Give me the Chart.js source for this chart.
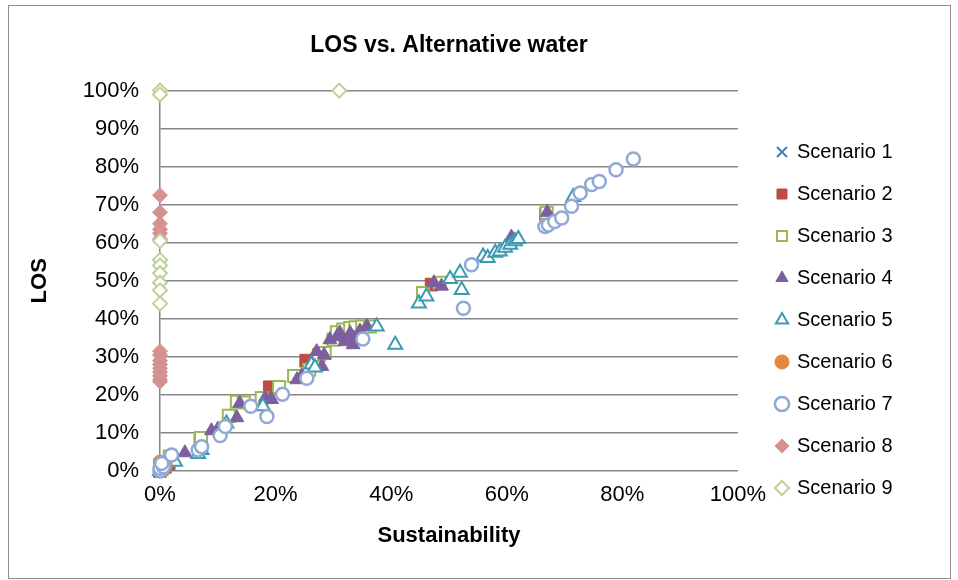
<!DOCTYPE html>
<html>
<head>
<meta charset="utf-8">
<script src="https://cdn.jsdelivr.net/npm/chart.js@4"></script>
<style>
  html, body { margin: 0; padding: 0; background: #fff; }
  #wrap { position: relative; width: 958px; height: 580px; }
  #frame { position: absolute; left: 8px; top: 5px; width: 941px; height: 572px; border: 1px solid #8c8c8c; pointer-events: none; }
</style>
</head>
<body>
<div id="wrap">
  <canvas id="chart" width="958" height="580"></canvas>
  <div id="frame"></div>
</div>
<script>
// Sustainability (x, %) vs LOS (y, %) for each scenario
const scenarioNames = ['Scenario 1', 'Scenario 2', 'Scenario 3', 'Scenario 4', 'Scenario 5',
  'Scenario 6', 'Scenario 7', 'Scenario 8', 'Scenario 9'];

const scenario1 = [[0, 0], [0.5, 0.5], [1, 1]];
const scenario2 = [[0, 0], [1.5, 2], [7, 8], [12, 14.5], [19, 22], [25.3, 29], [30.5, 35],
  [33, 37], [47, 49], [66.8, 67.5]];
const scenario3 = [[0, 0.5], [0, 1.5], [1.7, 3.8], [7.1, 8.7], [11.9, 14.5], [13.3, 18.2],
  [14.5, 18], [17.6, 19.2], [20.6, 22.1], [23.2, 25], [25.8, 26.6], [27.5, 30.5], [28.5, 31],
  [30, 34.5], [30.6, 36.5], [31.7, 37.2], [32.9, 37.6], [33.8, 37.8], [35, 38], [36.3, 38],
  [45.5, 46.8], [48.4, 49.5], [66.9, 67.9]];
const scenario4 = [[0, 0.5], [4.3, 4.8], [8.9, 10.6], [10, 11], [13.3, 14], [13.8, 17.8],
  [18.2, 19.2], [19.3, 18.8], [23.7, 24], [24.5, 25], [27.1, 31.4], [28.4, 30.5], [28, 27.5],
  [29.4, 34.5], [30.6, 35.3], [31.1, 36.3], [32, 34], [32.9, 36.2], [33.4, 33.2], [33.5, 35],
  [34.6, 36.8], [35.8, 38], [47.4, 49.5], [48.7, 48.6], [60.8, 61.5], [67, 68]];
const scenario5 = [[0, 0], [0.5, 0.5], [2.6, 2.4], [6.6, 4.5], [7.2, 5.5], [11.5, 12.5],
  [17.8, 17], [26.2, 28], [26.8, 27.2], [37.5, 38], [40.7, 33.2], [44.8, 44], [46.1, 45.9],
  [50.2, 50.5], [51.9, 52.1], [52.2, 47.6], [55.9, 56.4], [56.7, 56], [58, 57.4], [58.8, 57.7],
  [59.7, 58.7], [60.6, 59.5], [61.4, 60.4], [62, 61], [71.5, 72]];
const scenario6 = [[0, 2.5], [0, 1], [0.5, 0], [1, 1.5]];
const scenario7 = [[0, 0], [0, 0.7], [0.6, 1.1], [0.3, 2], [2, 4.2], [6.6, 5.5], [7.2, 6.4],
  [10.4, 9.3], [11.3, 11.7], [15.7, 17], [18.5, 14.3], [21.2, 20.2], [25.4, 24.4], [35.1, 34.7],
  [52.5, 42.8], [53.9, 54.2], [66.6, 64.3], [67.2, 64.7], [68.3, 65.6], [69.5, 66.5],
  [71.2, 69.6], [72.7, 73.1], [74.7, 75.3], [76, 76.1], [78.9, 79.2], [81.9, 82]];
const scenario8 = [[0, 72.5], [0, 68], [0, 65], [0, 63.5], [0, 62.5], [0, 61], [0, 31.5],
  [0, 30.5], [0, 29], [0, 28], [0, 27], [0, 26], [0, 25], [0, 24], [0, 23.5]];
const scenario9 = [[0, 100], [0, 99], [31, 100], [0, 60.5], [0, 55.5], [0, 54], [0, 52],
  [0, 49.5], [0, 47.5], [0, 44]];

const xTicks = [0, 20, 40, 60, 80, 100];
const yTicks = [0, 10, 20, 30, 40, 50, 60, 70, 80, 90, 100];

const series = [scenario1, scenario2, scenario3, scenario4, scenario5,
  scenario6, scenario7, scenario8, scenario9];

// marker look per scenario
const markers = [
  { shape: 'crossRot', line: '#4A7EBB', fill: '#4A7EBB', r: 8,   w: 2 },
  { shape: 'rect',     line: '#BE4B48', fill: '#BE4B48', r: 9,   w: 1 },
  { shape: 'rect',     line: '#98B954', fill: '#ffffff', r: 8.5, w: 2 },
  { shape: 'triangle', line: '#7D5FA0', fill: '#7D5FA0', r: 8,   w: 1 },
  { shape: 'triangle', line: '#3A9BB3', fill: '#ffffff', r: 8,   w: 2 },
  { shape: 'circle',   line: '#E5873C', fill: '#E5873C', r: 6.5, w: 1 },
  { shape: 'circle',   line: '#90A9D5', fill: '#ffffff', r: 6.5, w: 2.5 },
  { shape: 'rectRot',  line: '#D49290', fill: '#D49290', r: 7.5, w: 1 },
  { shape: 'rectRot',  line: '#BCD196', fill: '#ffffff', r: 7,   w: 2 }
];

const FONT = "'Liberation Sans', Arial, sans-serif";
const GRID = '#868686';

new Chart(document.getElementById('chart'), {
  type: 'scatter',
  data: {
    datasets: series.map((pts, i) => ({
      label: scenarioNames[i],
      data: pts.map(([x, y]) => ({ x, y })),
      pointStyle: markers[i].shape,
      pointRadius: markers[i].r,
      pointHoverRadius: markers[i].r,
      borderColor: markers[i].line,
      backgroundColor: markers[i].fill,
      borderWidth: markers[i].w,
      order: series.length - i,   // later scenarios sit on top
      clip: false
    }))
  },
  options: {
    responsive: false,
    animation: false,
    layout: { padding: { left: 0, right: 55.4, top: 0, bottom: 31 } },
    plugins: {
      title: {
        display: true,
        fullSize: false,
        text: 'LOS vs. Alternative water',
        color: '#000',
        font: { family: FONT, size: 23, weight: 'bold' },
        padding: { top: 32, bottom: 31 }
      },
      legend: {
        position: 'right',
        align: 'start',
        // blank title only pushes the items down
        title: { display: true, text: '', font: { size: 12 }, padding: { top: 105.6, bottom: 0 } },
        labels: {
          usePointStyle: true,
          boxWidth: 10,
          boxHeight: 10,
          padding: 22,
          color: '#000',
          font: { family: FONT, size: 20 },
          sort: (a, b) => a.datasetIndex - b.datasetIndex
        }
      },
      tooltip: { enabled: false }
    },
    scales: {
      x: {
        type: 'linear',
        min: 0,
        max: 100,
        afterFit: s => { s.height = 78; },
        afterBuildTicks: s => { s.ticks = xTicks.map(v => ({ value: v })); },
        grid: { display: false, drawTicks: false },
        border: { display: false },
        ticks: { padding: 11, color: '#000', font: { family: FONT, size: 22 }, callback: v => v + '%' },
        title: { display: true, text: 'Sustainability', color: '#000',
          font: { family: FONT, size: 22, weight: 'bold' }, padding: { top: 0, bottom: 0 } }
      },
      y: {
        type: 'linear',
        min: 0,
        max: 100,
        afterFit: s => { s.width = 160; },
        afterBuildTicks: s => { s.ticks = yTicks.map(v => ({ value: v })); },
        grid: { color: GRID, lineWidth: 1.5, drawTicks: false },
        border: { display: true, color: GRID, width: 1.5 },
        ticks: { padding: 21, color: '#000', font: { family: FONT, size: 22 }, callback: v => v + '%' },
        title: { display: true, text: 'LOS', color: '#000',
          font: { family: FONT, size: 22, weight: 'bold' }, padding: { top: 27, bottom: 0 } }
      },
      // empty spacer between plot and legend
      gap: {
        type: 'linear',
        position: 'right',
        display: true,
        afterFit: s => { s.width = 17; },
        grid: { display: false },
        border: { display: false },
        ticks: { display: false }
      }
    }
  }
});
</script>
</body>
</html>
